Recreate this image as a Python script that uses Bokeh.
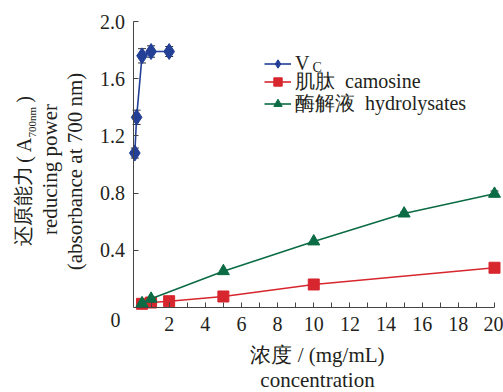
import math
from bokeh.plotting import figure
from bokeh.models import (Range1d, FixedTicker, PrintfTickFormatter, Label, Legend,
                          LegendItem, Whisker, ColumnDataSource, TeeHead)
from bokeh.embed import file_html
from bokeh.resources import INLINE

# ---------------- data ----------------
vc_x = [0.1, 0.2, 0.5, 1, 2]
vc_y = [1.08, 1.33, 1.76, 1.79, 1.79]
vc_err = [0.035, 0.05, 0.05, 0.04, 0.035]

car_x = [0.5, 1, 2, 5, 10, 20]
car_y = [0.026, 0.035, 0.044, 0.077, 0.161, 0.278]

hyd_x = [0.5, 1, 5, 10, 15, 20]
hyd_y = [0.030, 0.061, 0.254, 0.462, 0.657, 0.795]
hyd_err = [0.0, 0.0, 0.0, 0.0, 0.01, 0.02]

x_major = [2, 4, 6, 8, 10, 12, 14, 16, 18, 20]
x_minor = [1, 3, 5, 7, 9, 11, 13, 15, 17, 19]
y_major = [0.4, 0.8, 1.2, 1.6, 2.0]

legend_labels = ["V", "肌肽  camosine", "酶解液  hydrolysates"]

# ---------------- layout ----------------
W, H = 503, 392
X0PX, X20PX = 132.5, 494.0      # canvas px of x=0 and x=20
Y0PX, Y2PX = 307.0, 21.0        # canvas px of y=0 and y=2
sx = (X20PX - X0PX) / 20.0
sy = (Y0PX - Y2PX) / 2.0
x_start = (0 - X0PX) / sx
x_end = (W - X0PX) / sx
y_start = -(H - Y0PX) / sy
y_end = Y0PX / sy


def dx(cx):
    return (cx - X0PX) / sx


def dy(cy):
    return (Y0PX - cy) / sy


SERIF = "Liberation Serif"
INK = "#231f20"
BLUE = "#233f96"
RED = "#d7262e"
GREEN = "#0b6b44"

p = figure(width=W, height=H, output_backend="svg", toolbar_location=None,
           x_range=Range1d(x_start, x_end), y_range=Range1d(y_start, y_end),
           min_border=0, min_border_left=0, min_border_right=0,
           min_border_top=0, min_border_bottom=0)
p.outline_line_color = None
p.xgrid.visible = False
p.ygrid.visible = False
p.background_fill_color = "white"
p.border_fill_color = "white"

xa = p.xaxis[0]
xa.fixed_location = 0
xa.bounds = (0, 20)
xa.ticker = FixedTicker(ticks=x_major, minor_ticks=x_minor)
xa.major_tick_in = 5
xa.major_tick_out = 0
xa.minor_tick_in = 5
xa.minor_tick_out = 0
xa.major_label_standoff = 9
xa.major_label_text_font = SERIF
xa.major_label_text_font_size = "20px"
xa.major_label_text_color = INK
xa.axis_line_color = "#444444"
xa.major_tick_line_color = "#444444"
xa.minor_tick_line_color = "#444444"

ya = p.yaxis[0]
ya.fixed_location = 0
ya.bounds = (0, 2)
ya.ticker = FixedTicker(ticks=y_major, minor_ticks=[])
ya.formatter = PrintfTickFormatter(format="%.1f")
ya.major_tick_in = 5
ya.major_tick_out = 0
ya.minor_tick_line_color = None
ya.major_label_standoff = 8
ya.major_label_text_font = SERIF
ya.major_label_text_font_size = "20px"
ya.major_label_text_color = INK
ya.axis_line_color = "#444444"
ya.major_tick_line_color = "#444444"

# error bars
vc_src = ColumnDataSource(dict(x=vc_x, y=vc_y,
                               lo=[v - e for v, e in zip(vc_y, vc_err)],
                               hi=[v + e for v, e in zip(vc_y, vc_err)]))
hx = [x for x, e in zip(hyd_x, hyd_err) if e > 0]
hy = [y for y, e in zip(hyd_y, hyd_err) if e > 0]
he = [e for e in hyd_err if e > 0]
hyd_err_src = ColumnDataSource(dict(x=hx, lo=[y - e for y, e in zip(hy, he)],
                                    hi=[y + e for y, e in zip(hy, he)]))
for src in (vc_src, hyd_err_src):
    w = Whisker(source=src, base="x", upper="hi", lower="lo",
                line_color="#333333", line_width=1,
                upper_head=TeeHead(size=8, line_color="#333333", line_width=1),
                lower_head=TeeHead(size=8, line_color="#333333", line_width=1))
    p.add_layout(w)

# series
l1 = p.line(vc_x, vc_y, line_color=BLUE, line_width=1.6)
s1 = p.scatter(vc_x, vc_y, marker="diamond", size=16, fill_color=BLUE, line_color=BLUE)
l2 = p.line(car_x, car_y, line_color=RED, line_width=1.6)
s2 = p.scatter(car_x, car_y, marker="square", size=11, fill_color=RED, line_color=RED)
l3 = p.line(hyd_x, hyd_y, line_color=GREEN, line_width=1.6)
s3 = p.scatter(hyd_x, hyd_y, marker="triangle", size=12, fill_color=GREEN, line_color=GREEN)

# one single-row legend per series, so that the rows sit at the reference's spacing
ROW_H = 28
row_anchor = [61, 81, 103]
for lab, rends, cy in zip(legend_labels, [[l1, s1], [l2, s2], [l3, s3]], row_anchor):
    lg = Legend(items=[LegendItem(label=lab, renderers=rends)],
                location=(264, H - (cy + ROW_H / 2)),
                glyph_width=27, glyph_height=21, label_height=21,
                label_standoff=4, spacing=0, padding=0, margin=0,
                border_line_color=None, background_fill_color=None,
                label_text_font=SERIF, label_text_font_size="20px",
                label_text_color=INK)
    p.add_layout(lg)

# subscript C of V_C
p.add_layout(Label(x=dx(312), y=dy(67), text="C", text_font=SERIF,
                   text_font_size="14px", text_color=INK,
                   text_align="left", text_baseline="middle", level="overlay"))

# y origin label
p.add_layout(Label(x=dx(115), y=dy(319), text="0", text_font=SERIF,
                   text_font_size="20px", text_color=INK,
                   text_align="center", text_baseline="middle"))

# x axis title
p.add_layout(Label(x=dx(317), y=dy(354), text="浓度 / (mg/mL)", text_font=SERIF,
                   text_font_size="21px", text_color=INK,
                   text_align="center", text_baseline="middle"))
p.add_layout(Label(x=dx(317), y=dy(379), text="concentration", text_font=SERIF,
                   text_font_size="21px", text_color=INK,
                   text_align="center", text_baseline="middle"))

# y axis title (rotated)
ang = math.pi / 2


def vlabel(cx, cy, text, size, align="center"):
    p.add_layout(Label(x=dx(cx), y=dy(cy), text=text, text_font=SERIF,
                       text_font_size=size, text_color=INK, angle=ang,
                       text_align=align, text_baseline="middle"))


vlabel(23, 245, "还原能力", "19.5px", align="left")
vlabel(23, 159, "(", "20px")
vlabel(23, 144.5, "A", "20px")
vlabel(31, 137, "700nm", "11px", align="left")
vlabel(23, 99, ")", "20px")
vlabel(49, 169, "reducing power", "21px")
vlabel(74, 171, "(absorbance at 700 nm)", "21px")

open("out.html", "w").write(file_html(p, INLINE))
